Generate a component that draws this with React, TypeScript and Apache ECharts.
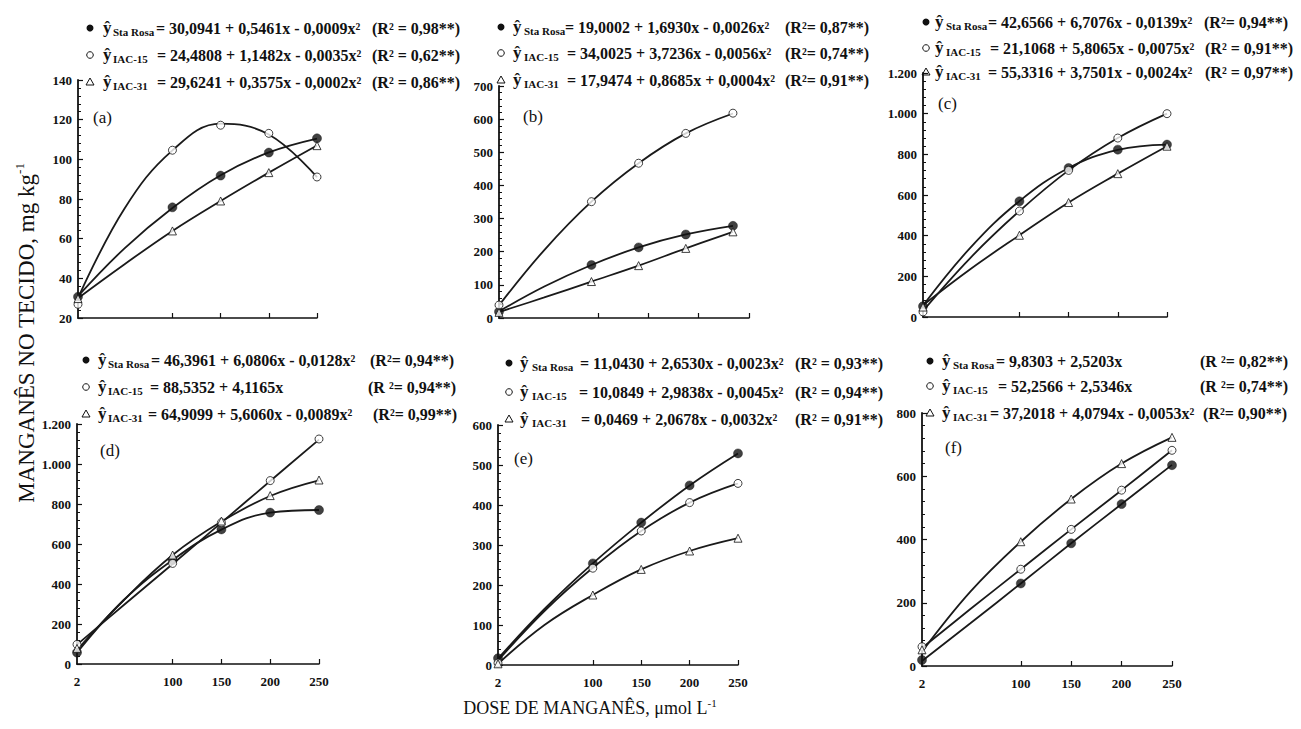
import React, { useEffect, useRef } from "react";
import * as echarts from "echarts";

// ---------- data ----------
const doses = [2, 100, 150, 200, 250];
const fitDoses = [2, 50, 100, 150, 200, 250];
const doseTickLabels = [2, 100, 150, 200, 250];
const varieties = ["Sta Rosa", "IAC-15", "IAC-31"];
const panelLabels = ["(a)", "(b)", "(c)", "(d)", "(e)", "(f)"];

// observed points, per panel (a..f), at doses
const staRosaObs = [
  [30.7, 75.8, 91.8, 103.4, 110.6],
  [19, 160, 213, 252, 278],
  [53, 569, 733, 823, 848],
  [57, 520, 673, 757, 770],
  [17, 254, 356, 449, 529],
  [19, 261, 388, 512, 635],
];
const iac15Obs = [
  [26.9, 104.6, 117.2, 113.1, 91.1],
  [39, 351, 467, 557, 618],
  [25, 521, 721, 880, 1000],
  [98, 503, 707, 917, 1125],
  [5, 242, 335, 406, 454],
  [61, 306, 432, 556, 682],
];
const iac31Obs = [
  [29.8, 63.9, 79, 93.3, 106.9],
  [17, 110, 158, 210, 260],
  [49, 402, 563, 705, 840],
  [78, 545, 715, 842, 920],
  [3, 175, 239, 285, 317],
  [51, 393, 528, 640, 723],
];

// fitted curves, per panel, at fitDoses
const staRosaFit = [
  [31, 55, 75.5, 92, 103.5, 110.5],
  [20, 95, 160, 213, 252, 278],
  [56, 340, 570, 733, 822, 848],
  [57, 320, 520, 672, 757, 770],
  [16, 140, 254, 356, 449, 529],
  [16, 135, 261, 388, 512, 636],
];
const iac15Fit = [
  [30, 75, 104.5, 118, 112.5, 91],
  [38, 205, 351, 467, 557, 617],
  [30, 290, 521, 721, 880, 1000],
  [97, 295, 500, 707, 915, 1122],
  [11, 135, 243, 335, 406, 454],
  [57, 180, 306, 432, 556, 682],
];
const iac31Fit = [
  [30, 47, 63.9, 79, 93.3, 107],
  [18, 62, 110, 158, 210, 260],
  [58, 235, 402, 563, 705, 840],
  [70, 320, 545, 712, 840, 918],
  [3, 100, 175, 239, 285, 317],
  [45, 235, 393, 528, 640, 723],
];

const yMin = [20, 0, 0, 0, 0, 0];
const yMax = [140, 700, 1200, 1200, 600, 800];
const yStep = [20, 100, 200, 200, 100, 200];

const staRosaEq = [
  "= 30,0941 + 0,5461x - 0,0009x²",
  "= 19,0002 + 1,6930x - 0,0026x²",
  "= 42,6566 + 6,7076x - 0,0139x²",
  "= 46,3961 + 6,0806x - 0,0128x²",
  "= 11,0430 + 2,6530x - 0,0023x²",
  "= 9,8303 + 2,5203x",
];
const iac15Eq = [
  "= 24,4808 + 1,1482x - 0,0035x²",
  "= 34,0025 + 3,7236x - 0,0056x²",
  "= 21,1068 + 5,8065x - 0,0075x²",
  "= 88,5352 + 4,1165x",
  "= 10,0849 + 2,9838x - 0,0045x²",
  "= 52,2566 + 2,5346x",
];
const iac31Eq = [
  "= 29,6241 + 0,3575x - 0,0002x²",
  "= 17,9474 + 0,8685x + 0,0004x²",
  "= 55,3316 + 3,7501x - 0,0024x²",
  "= 64,9099 + 5,6060x - 0,0089x²",
  "= 0,0469 + 2,0678x - 0,0032x²",
  "= 37,2018 + 4,0794x - 0,0053x²",
];
const staRosaR2 = ["(R² = 0,98**)", "(R²= 0,87**)", "(R²= 0,94**)", "(R²= 0,94**)", "(R² = 0,93**)", "(R ²= 0,82**)"];
const iac15R2 = ["(R² = 0,62**)", "(R²= 0,74**)", "(R² = 0,91**)", "(R ²= 0,94**)", "(R² = 0,94**)", "(R ²= 0,74**)"];
const iac31R2 = ["(R² = 0,86**)", "(R²= 0,91**)", "(R² = 0,97**)", "(R²= 0,99**)", "(R² = 0,91**)", "(R²= 0,90**)"];

// ---------- layout ----------
const SERIF = '"Liberation Serif", "Times New Roman", serif';
const INK = "#111";
const grids = [
  { left: 78, top: 80, width: 239, height: 238 },
  { left: 499, top: 86, width: 250, height: 232 },
  { left: 923, top: 73, width: 244, height: 244 },
  { left: 77, top: 424, width: 242, height: 240 },
  { left: 498, top: 425, width: 240, height: 240 },
  { left: 922, top: 413, width: 250, height: 253 },
];
const dataXMax = [250, 267, 250, 250, 250, 250];
const legendLayout = [
  { marker: 90, yhat: 103, sub: 113, eq: [156, 157, 157], r2: [372, 372, 372], rows: [28, 55, 82] },
  { marker: 501, yhat: 513, sub: 524, eq: [565, 567, 567], r2: [785, 785, 785], rows: [27, 53, 80] },
  { marker: 926, yhat: 935, sub: 946, eq: [988, 990, 988], r2: [1204, 1205, 1205], rows: [22, 48, 72] },
  { marker: 86, yhat: 98, sub: 108, eq: [151, 150, 148], r2: [370, 368, 373], rows: [360, 387, 414] },
  { marker: 509, yhat: 520, sub: 532, eq: [580, 579, 581], r2: [795, 795, 795], rows: [363, 392, 419] },
  { marker: 930, yhat: 942, sub: 953, eq: [996, 998, 990], r2: [1200, 1200, 1203], rows: [361, 386, 413] },
];
const panelLabelPos = [
  [93, 117], [523, 116], [938, 103], [100, 450], [514, 458], [945, 447],
];

function fmtTick(v: number) {
  if (v >= 1000) {
    const s = String(v);
    return s.slice(0, s.length - 3) + "." + s.slice(s.length - 3);
  }
  return String(v);
}

function txt(x: number, y: number, text: string, size: number, bold: boolean, align = "left") {
  return {
    type: "text",
    x,
    y,
    silent: true,
    style: {
      text,
      fontSize: size,
      fontFamily: SERIF,
      fontWeight: bold ? "bold" : "normal",
      fill: INK,
      align,
      textAlign: align,
      verticalAlign: "middle",
      textVerticalAlign: "middle",
    },
  };
}

function markerEl(kind: number, cx: number, cy: number) {
  if (kind === 0) return { type: "circle", silent: true, shape: { cx, cy, r: 3.5 }, style: { fill: INK } };
  if (kind === 1)
    return { type: "circle", silent: true, shape: { cx, cy, r: 3.3 }, style: { fill: "#fff", stroke: INK, lineWidth: 1 } };
  return {
    type: "polygon",
    silent: true,
    shape: { points: [[cx, cy - 4], [cx + 4, cy + 3], [cx - 4, cy + 3]] },
    style: { fill: "#fff", stroke: INK, lineWidth: 1 },
  };
}

export default function App() {
  const ref = useRef<HTMLDivElement>(null);
  useEffect(() => {
    document.body.style.margin = "0";
    if (!ref.current) return;
    const chart = echarts.init(ref.current, undefined, { renderer: "svg" });

    const obs = [staRosaObs, iac15Obs, iac31Obs];
    const fits = [staRosaFit, iac15Fit, iac31Fit];
    const eqs = [staRosaEq, iac15Eq, iac31Eq];
    const r2s = [staRosaR2, iac15R2, iac31R2];

    const xAxis: any[] = [];
    const yAxis: any[] = [];
    const series: any[] = [];
    const graphic: any[] = [];

    grids.forEach((g, k) => {
      xAxis.push({
        type: "value",
        gridIndex: k,
        min: 2,
        max: 250,
        axisLine: { show: true, onZero: false, lineStyle: { color: INK, width: 1.5 } },
        axisTick: { show: true, inside: true, length: 5, customValues: [100, 150, 200, 250], lineStyle: { color: INK, width: 1.2 } },
        axisLabel: {
          show: k >= 3,
          customValues: doseTickLabels,
          margin: 11,
          fontFamily: SERIF,
          fontWeight: "bold",
          fontSize: 13,
          color: INK,
        },
        splitLine: { show: false },
      });
      xAxis.push({
        type: "value",
        gridIndex: k,
        min: 2,
        max: dataXMax[k],
        show: false,
      });
      yAxis.push({
        type: "value",
        gridIndex: k,
        min: yMin[k],
        max: yMax[k],
        interval: yStep[k],
        axisLine: { show: true, onZero: false, lineStyle: { color: INK, width: 1.8 } },
        axisTick: { show: true, inside: true, length: 5, lineStyle: { color: INK, width: 1.2 } },
        minorTick: { show: true, splitNumber: 5, length: 3, lineStyle: { color: INK, width: 1 } },
        axisLabel: {
          margin: 6,
          fontFamily: SERIF,
          fontWeight: "bold",
          fontSize: 13,
          color: INK,
          formatter: (v: number) => fmtTick(v),
        },
        splitLine: { show: false },
        minorSplitLine: { show: false },
      });

      for (let v = 0; v < 3; v++) {
        series.push({
          type: "line",
          name: varieties[v] + " fit " + k,
          xAxisIndex: 2 * k + 1,
          yAxisIndex: k,
          data: fitDoses.map((d, i) => [d, fits[v][k][i]]),
          smooth: 0.4,
          symbol: "none",
          showSymbol: false,
          clip: false,
          silent: true,
          lineStyle: { color: "#1a1a1a", width: 1.8 },
          z: 2,
        });
        series.push({
          type: "scatter",
          name: varieties[v] + " " + k,
          xAxisIndex: 2 * k + 1,
          yAxisIndex: k,
          data: doses.map((d, i) => [d, obs[v][k][i]]),
          symbol: v === 2 ? "triangle" : "circle",
          symbolSize: v === 0 ? 9 : 8,
          clip: false,
          silent: true,
          itemStyle:
            v === 0
              ? { color: INK, borderColor: INK, borderWidth: 0.5 }
              : { color: "#fff", borderColor: INK, borderWidth: 1 },
          z: 3,
        });
      }

      // legend rows
      const L = legendLayout[k];
      for (let v = 0; v < 3; v++) {
        const y = L.rows[v];
        graphic.push(markerEl(v, L.marker, y));
        graphic.push(txt(L.yhat, y - 1, "ŷ", 17, true));
        graphic.push(txt(L.sub, y + 4, varieties[v], 11, true));
        graphic.push(txt(L.eq[v], y, eqs[v][k], 16, true));
        graphic.push(txt(L.r2[v], y, r2s[v][k], 16, true));
      }
      graphic.push(txt(panelLabelPos[k][0], panelLabelPos[k][1], panelLabels[k], 17, false));
    });

    graphic.push({
      type: "text",
      x: 26,
      y: 333,
      rotation: Math.PI / 2,
      silent: true,
      style: {
        text: "{m|MANGANÊS NO TECIDO, mg kg}{s|-1}",
        align: "center",
        textAlign: "center",
        verticalAlign: "middle",
        textVerticalAlign: "middle",
        rich: {
          m: { fontSize: 23, fontFamily: SERIF, fill: INK, color: INK, lineHeight: 26 },
          s: { fontSize: 13, fontFamily: SERIF, fill: INK, color: INK, verticalAlign: "top", lineHeight: 26 },
        },
      },
    });
    graphic.push({
      type: "text",
      x: 590,
      y: 708,
      silent: true,
      style: {
        text: "{m|DOSE DE MANGANÊS, μmol L}{s|-1}",
        align: "center",
        textAlign: "center",
        verticalAlign: "middle",
        textVerticalAlign: "middle",
        rich: {
          m: { fontSize: 18, fontFamily: SERIF, fill: INK, color: INK, lineHeight: 22 },
          s: { fontSize: 11, fontFamily: SERIF, fill: INK, color: INK, verticalAlign: "top", lineHeight: 22 },
        },
      },
    });

    chart.setOption({
      animation: false,
      backgroundColor: "#fff",
      grid: grids.map((g) => ({ ...g, containLabel: false })),
      xAxis,
      yAxis,
      series,
      graphic,
    });
    return () => chart.dispose();
  }, []);
  return <div ref={ref} style={{ width: 1301, height: 729 }} />;
}
